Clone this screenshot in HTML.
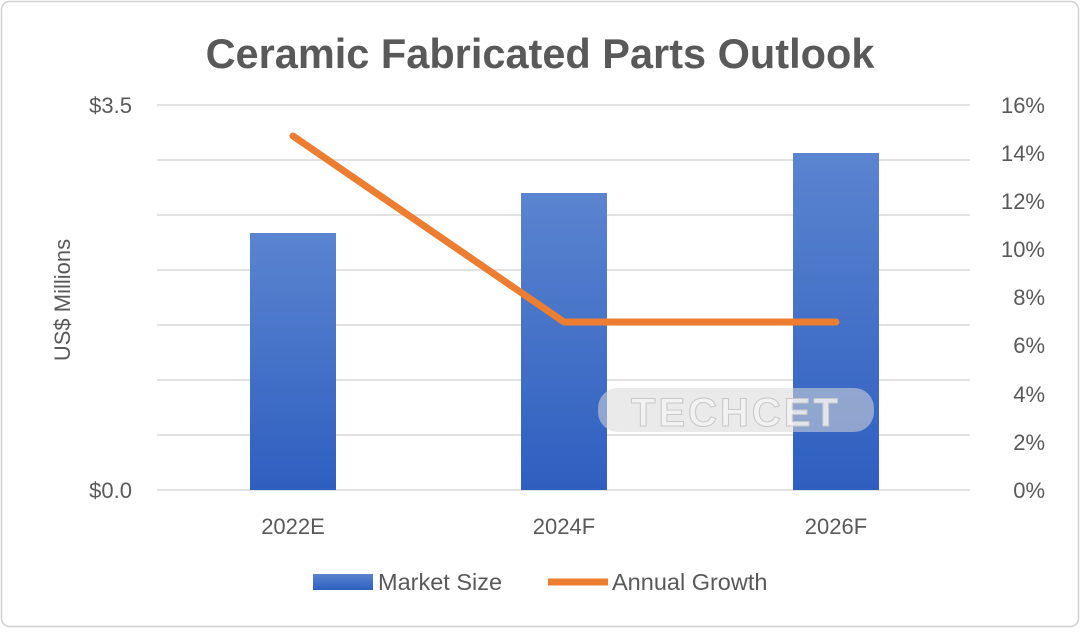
<!DOCTYPE html>
<html><head><style>
body{margin:0;background:#fff;}
</style></head><body>
<svg width="1080" height="628" xmlns="http://www.w3.org/2000/svg" font-family="Liberation Sans, sans-serif">
<defs>
<linearGradient id="g" x1="0" y1="0" x2="0" y2="1">
<stop offset="0" stop-color="#5b84d0"/><stop offset="1" stop-color="#2e5fc0"/>
</linearGradient>
</defs>
<rect x="1.5" y="1.5" width="1077" height="625" rx="8" fill="#fff" stroke="#d0d0d0" stroke-width="1.5"/>
<text x="540" y="68" text-anchor="middle" font-size="41.5" font-weight="bold" fill="#595959">Ceramic Fabricated Parts Outlook</text>
<g stroke="#d9d9d9" stroke-width="1.5">
<line x1="157" x2="970" y1="105" y2="105"/><line x1="157" x2="970" y1="160" y2="160"/>
<line x1="157" x2="970" y1="215" y2="215"/><line x1="157" x2="970" y1="270" y2="270"/>
<line x1="157" x2="970" y1="325" y2="325"/><line x1="157" x2="970" y1="380" y2="380"/>
<line x1="157" x2="970" y1="435" y2="435"/><line x1="157" x2="970" y1="490" y2="490"/>
</g>
<rect x="250" y="233" width="86" height="257" fill="url(#g)"/>
<rect x="521" y="193" width="86" height="297" fill="url(#g)"/>
<rect x="793" y="153" width="86" height="337" fill="url(#g)"/>
<rect x="598" y="388" width="276" height="44" rx="20" fill="#d8d8d8" fill-opacity="0.55"/>
<text x="736" y="426" text-anchor="middle" font-size="40" font-weight="bold" fill="#f4f4f4" fill-opacity="0.8" stroke="#c8c8c8" stroke-width="1" letter-spacing="3">TECHCET</text>
<polyline points="293,136 564,322 836,322" fill="none" stroke="#ed7d31" stroke-width="7" stroke-linejoin="round" stroke-linecap="round"/>
<g font-size="22" fill="#595959">
<text x="132" y="113" text-anchor="end">$3.5</text>
<text x="132" y="498" text-anchor="end">$0.0</text>
<text transform="translate(70,300) rotate(-90)" text-anchor="middle">US$ Millions</text>
<g text-anchor="end">
<text x="1045" y="113">16%</text><text x="1045" y="161">14%</text><text x="1045" y="209">12%</text>
<text x="1045" y="257">10%</text><text x="1045" y="305">8%</text><text x="1045" y="353">6%</text>
<text x="1045" y="402">4%</text><text x="1045" y="450">2%</text><text x="1045" y="498">0%</text>
</g>
<g text-anchor="middle">
<text x="293" y="534">2022E</text><text x="564" y="534">2024F</text><text x="836" y="534">2026F</text>
</g>
<rect x="313" y="574" width="60" height="16" fill="url(#g)"/>
<text x="378" y="590" font-size="23.5">Market Size</text>
<line x1="548" x2="608" y1="582" y2="582" stroke="#ed7d31" stroke-width="7"/>
<text x="612" y="590" font-size="23.5">Annual Growth</text>
</g>
</svg>
</body></html>
